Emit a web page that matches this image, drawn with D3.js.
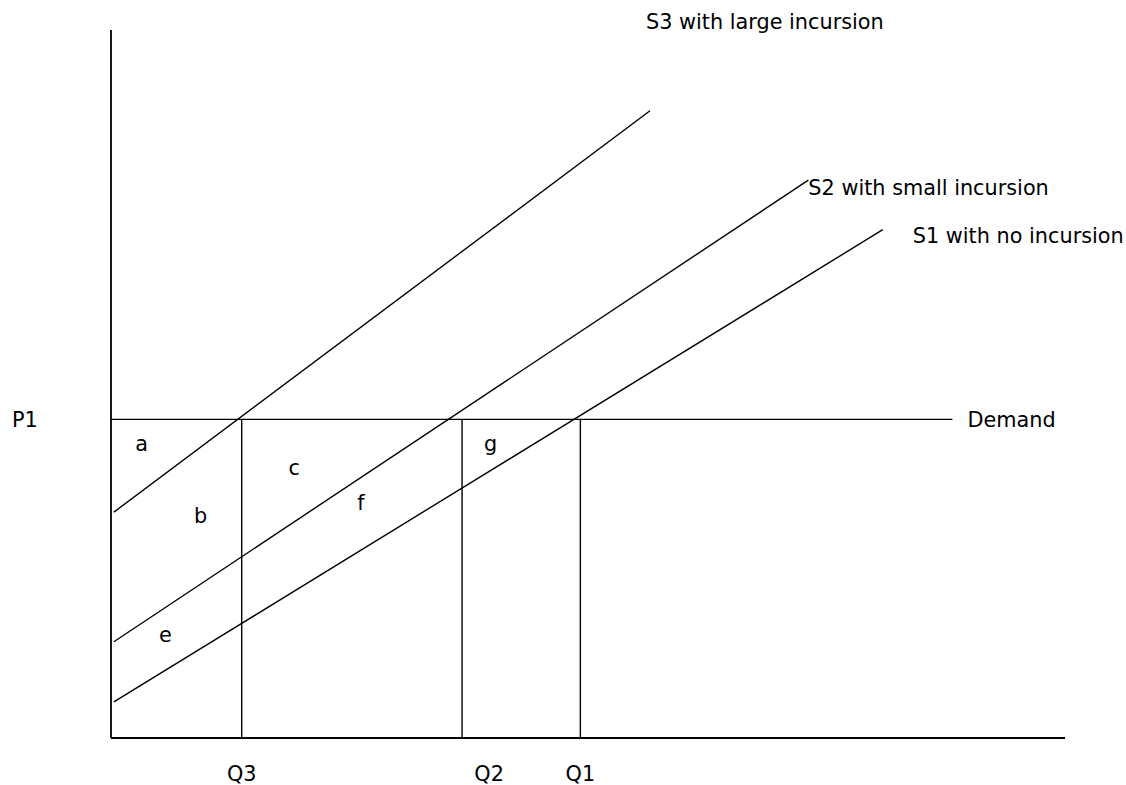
<!DOCTYPE html>
<html>
<head>
<meta charset="utf-8">
<script src="https://cdn.jsdelivr.net/npm/d3@7"></script>
<style>
  body { margin: 0; background: #fff; }
  text { font-family: "DejaVu Sans", Verdana, sans-serif; font-size: 20.8px; fill: #000; }
</style>
</head>
<body>
<script>
// quantity / price in abstract units (0..100)
var P1 = 45;
var demandEnd = 88.2;

var supplyNames = ["S3 with large incursion", "S2 with small incursion", "S1 with no incursion"];
var supplyStart = [[0.3, 31.9], [0.3, 13.6], [0.3, 5.1]];
var supplyEnd = [[56.5, 88.6], [73.1, 78.8], [80.9, 71.8]];

var qNames = ["Q3", "Q2", "Q1"];
var qValues = [13.7, 36.8, 49.2];

var areaNames = ["a", "b", "c", "f", "g", "e"];
var areaPos = [[3.2, 41.5], [9.4, 31.4], [19.2, 38.1], [26.2, 33.2], [39.8, 41.5], [5.7, 14.5]];

var w = 1126;
var h = 785;

var svg = d3.select("body")
  .append("svg")
  .attr("width", w)
  .attr("height", h);

var x = d3.scaleLinear()
  .domain([0, 100])
  .range([111, 1065]);

var y = d3.scaleLinear()
  .domain([0, 100])
  .range([738, 30]);

var g = svg.append("g")
  .attr("stroke", "#000")
  .attr("stroke-width", 1.4)
  .attr("fill", "none");

// axes
g.append("line")
  .attr("stroke-width", 1.8)
  .attr("x1", x(0)).attr("y1", y(0))
  .attr("x2", x(0)).attr("y2", y(100));
g.append("line")
  .attr("stroke-width", 1.8)
  .attr("x1", x(0)).attr("y1", y(0))
  .attr("x2", x(100)).attr("y2", y(0));

// demand
g.append("line")
  .attr("x1", x(0)).attr("y1", y(P1))
  .attr("x2", x(demandEnd)).attr("y2", y(P1));

// supply curves
g.selectAll(".supply")
  .data(supplyNames)
  .enter()
  .append("line")
  .attr("x1", function(d, i) { return x(supplyStart[i][0]); })
  .attr("y1", function(d, i) { return y(supplyStart[i][1]); })
  .attr("x2", function(d, i) { return x(supplyEnd[i][0]); })
  .attr("y2", function(d, i) { return y(supplyEnd[i][1]); });

// quantity drop lines
g.selectAll(".qline")
  .data(qValues)
  .enter()
  .append("line")
  .attr("x1", function(d) { return x(d); })
  .attr("y1", y(P1))
  .attr("x2", function(d) { return x(d); })
  .attr("y2", y(0));

// labels
svg.append("text")
  .attr("x", 12).attr("y", y(P1) + 8)
  .text("P1");

svg.append("text")
  .attr("x", x(demandEnd) + 15).attr("y", y(P1) + 8)
  .text("Demand");

var labelOffsets = [[-4, -82], [0, 15], [30, 13]];
svg.selectAll(".slabel")
  .data(supplyNames)
  .enter()
  .append("text")
  .attr("x", function(d, i) { return x(supplyEnd[i][0]) + labelOffsets[i][0]; })
  .attr("y", function(d, i) { return y(supplyEnd[i][1]) + labelOffsets[i][1]; })
  .text(function(d) { return d; });

svg.selectAll(".qlabel")
  .data(qNames)
  .enter()
  .append("text")
  .attr("x", function(d, i) { return i == 1 ? x(qValues[i]) + 27 : x(qValues[i]); })
  .attr("y", y(0) + 43)
  .attr("text-anchor", "middle")
  .text(function(d) { return d; });

svg.selectAll(".alabel")
  .data(areaNames)
  .enter()
  .append("text")
  .attr("x", function(d, i) { return x(areaPos[i][0]); })
  .attr("y", function(d, i) { return y(areaPos[i][1]) + 7; })
  .attr("text-anchor", "middle")
  .text(function(d) { return d; });
</script>
</body>
</html>
